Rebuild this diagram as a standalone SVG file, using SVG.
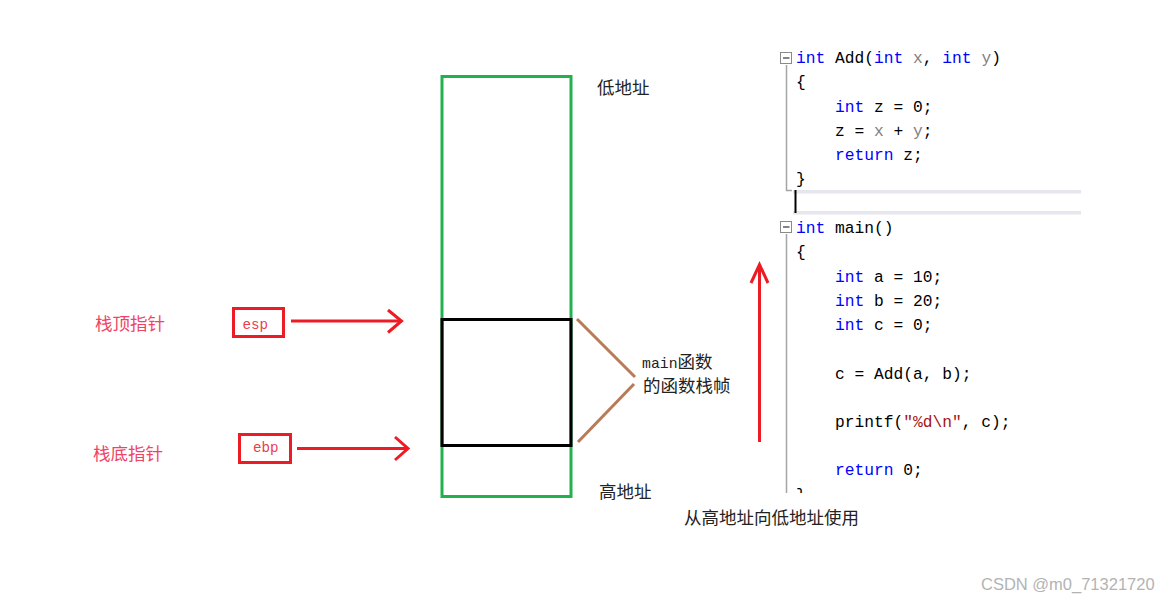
<svg xmlns="http://www.w3.org/2000/svg" width="1171" height="601" viewBox="0 0 1171 601">
<style>
.cjk{font-family:"Noto Sans CJK SC","Noto Sans",sans-serif;font-size:17.5px;fill:#222}
.red{fill:#ee4466}
.mono{font-family:"Liberation Mono","DejaVu Sans Mono",monospace}
.code{font-family:"Liberation Mono","DejaVu Sans Mono",monospace;font-size:16.25px;fill:#000}
.kw{fill:#0000ff}
.pm{fill:#808080}
.str{fill:#a31515}
.rl{stroke:#ed1c24;stroke-width:3;fill:none}
.br{stroke:#b97a57;stroke-width:3;fill:none}
.guide{stroke:#a5a5a5;stroke-width:1.5;fill:none}
.band{fill:#e6e6ee}
.fold{fill:#fff;stroke:#8a8a8a;stroke-width:1}
</style>
<defs>
<clipPath id="codeclip"><rect x="770" y="30" width="330" height="463"/></clipPath>
</defs>
<rect width="1171" height="601" fill="#fff"/>

<g id="stack">
<rect x="442" y="76.5" width="129" height="420" fill="none" stroke="#22b14c" stroke-width="3"/>
</g>
<g id="main-frame">
<rect x="442" y="319.5" width="129" height="126" fill="none" stroke="#000" stroke-width="3"/>
</g>
<g id="low-addr"><text class="cjk" x="597" y="94">低地址</text></g>
<g id="high-addr"><text class="cjk" x="599" y="498">高地址</text></g>
<g id="usage"><text class="cjk" x="684" y="524">从高地址向低地址使用</text></g>
<g id="frame-label">
<text class="cjk" x="642" y="368"><tspan class="mono" font-size="14.8px">main</tspan>函数</text>
<text class="cjk" x="643" y="392">的函数栈帧</text>
</g>
<g id="top-label"><text class="cjk red" x="95" y="330">栈顶指针</text></g>
<g id="bottom-label"><text class="cjk red" x="93" y="460">栈底指针</text></g>
<g id="esp">
<rect x="233.5" y="308.5" width="50" height="28" fill="none" stroke="#ed1c24" stroke-width="3"/>
<text class="mono" x="242.5" y="329" font-size="14.2px" fill="#e8404a">esp</text>
</g>
<g id="ebp">
<rect x="239.5" y="434.5" width="51" height="28" fill="none" stroke="#ed1c24" stroke-width="3"/>
<text class="mono" x="253" y="451.5" font-size="14.2px" fill="#e8404a">ebp</text>
</g>

<g id="connectors">
<path class="rl" d="M291 321H401"/>
<path class="rl" d="M388 310L401.5 321L388 332.5"/>
<path class="rl" d="M297 448.5H407"/>
<path class="rl" d="M395 437L408 448.5L395 460"/>
<path class="rl" d="M759.5 442V265"/>
<path class="rl" d="M751 283L759.5 264.5L768 283"/>
<path class="br" d="M577 319L635 377"/>
<path class="br" d="M578 442L634 384"/>
</g>

<g id="code" clip-path="url(#codeclip)" xml:space="preserve">
<rect class="band" x="793" y="190" width="288" height="3.5"/>
<rect class="band" x="793" y="211" width="288" height="3.5"/>
<path d="M795.5 190V213" stroke="#000" stroke-width="2"/>
<path class="guide" d="M786.5 65V190.5H792"/>
<path class="guide" d="M786.5 234V500"/>
<rect class="fold" x="780.5" y="52.5" width="11" height="11"/>
<path d="M783 58H789.5" stroke="#333" stroke-width="1.2"/>
<rect class="fold" x="780.5" y="221.5" width="11" height="11"/>
<path d="M783 227H789.5" stroke="#333" stroke-width="1.2"/>
<text class="code" x="796" y="63"><tspan class="kw">int</tspan> Add(<tspan class="kw">int</tspan> <tspan class="pm">x</tspan>, <tspan class="kw">int</tspan> <tspan class="pm">y</tspan>)</text>
<text class="code" x="796" y="87" fill="#6b6b45">{</text>
<text class="code" x="835" y="111.5"><tspan class="kw">int</tspan> z = 0;</text>
<text class="code" x="835" y="136"><tspan>z = </tspan><tspan class="pm">x</tspan> + <tspan class="pm">y</tspan>;</text>
<text class="code" x="835" y="160"><tspan class="kw">return</tspan> z;</text>
<text class="code" x="796" y="184" fill="#a0522d">}</text>
<text class="code" x="796" y="233"><tspan class="kw">int</tspan> main()</text>
<text class="code" x="796" y="257" fill="#6b6b45">{</text>
<text class="code" x="835" y="282"><tspan class="kw">int</tspan> a = 10;</text>
<text class="code" x="835" y="306"><tspan class="kw">int</tspan> b = 20;</text>
<text class="code" x="835" y="330"><tspan class="kw">int</tspan> c = 0;</text>
<text class="code" x="835" y="379">c = Add(a, b);</text>
<text class="code" x="835" y="427">printf(<tspan class="str">"%d\n"</tspan>, c);</text>
<text class="code" x="835" y="475"><tspan class="kw">return</tspan> 0;</text>
<text class="code" x="796" y="500" fill="#6b6b45">}</text>
</g>

<g id="watermark"><text x="981" y="590" font-family="Liberation Sans,Arial,sans-serif" font-size="16.5px" fill="#b3b3b3">CSDN @m0_71321720</text></g>
</svg>
